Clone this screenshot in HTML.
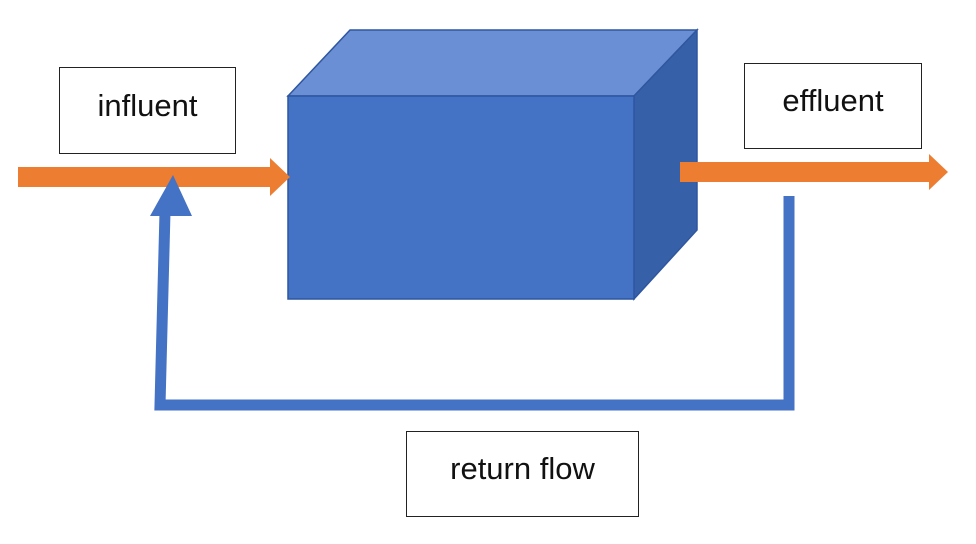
<!DOCTYPE html>
<html><head><style>
body{margin:0;background:#fff;width:976px;height:544px;overflow:hidden;position:relative;font-family:"Liberation Sans",sans-serif}
.b{position:absolute;border:1.5px solid #222;background:#fff;box-sizing:border-box;display:flex;align-items:center;justify-content:center;font-size:31px;color:#111;padding-bottom:10px}
</style></head><body>
<svg width="976" height="544" style="position:absolute;left:0;top:0">
<polygon points="288,96 350,30 697,30 634,96" fill="#6a8fd4" stroke="#2f56a0" stroke-width="1.5"/>
<polygon points="634,96 697,30 697,230 634,299" fill="#3660a8" stroke="#2f56a0" stroke-width="1.5"/>
<rect x="288" y="96" width="346" height="203" fill="#4472c4" stroke="#2f56a0" stroke-width="1.5"/>
<rect x="18" y="167" width="255" height="20" fill="#ed7d31"/>
<polygon points="270,158 290,177 270,196" fill="#ed7d31"/>
<rect x="680" y="162" width="252" height="20" fill="#ed7d31"/>
<polygon points="929,154 948,172 929,190" fill="#ed7d31"/>
<polyline points="789,196 789,405 160,405 165,212" fill="none" stroke="#4472c4" stroke-width="11"/>
<polygon points="150,216 173,175 192,216" fill="#4472c4"/>
</svg>
<div class="b" style="left:59px;top:67px;width:177px;height:87px">influent</div>
<div class="b" style="left:744px;top:63px;width:178px;height:86px">effluent</div>
<div class="b" style="left:406px;top:431px;width:233px;height:86px">return flow</div>
</body></html>
